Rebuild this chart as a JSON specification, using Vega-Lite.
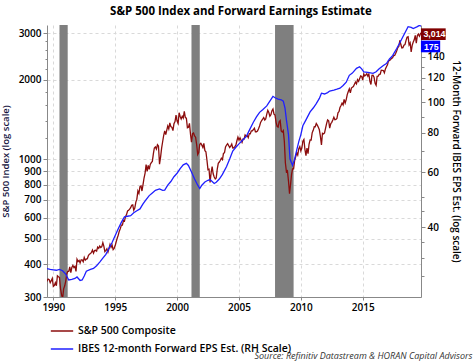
{
  "$schema": "https://vega.github.io/schema/vega-lite/v6.json",
  "width": 374,
  "height": 272,
  "autosize": {"type": "none"},
  "padding": {"left": 47, "top": 25, "right": 55, "bottom": 64},
  "background": "white",
  "title": {"text": "S&P 500 Index and Forward Earnings Estimate", "font": "Open Sans", "fontSize": 11.5, "fontWeight": "bold", "color": "#000000", "anchor": "middle", "frame": "group", "dx": 7, "offset": 8},
  "config": {"view": {"stroke": null}, "font": "Open Sans"},
  "datasets": {
    "rec": [{"d": "1990-07", "d2": "1991-03"}, {"d": "2001-03", "d2": "2001-11"}, {"d": "2007-12", "d2": "2009-06"}],
    "spend": [{"d": "2019-09-15", "v": 3014}],
    "epsend": [{"d": "2019-09-15", "v": 175}],
    "sp": [
      {"d":"1989-06","v":340},{"d":"1989-07","v":346},{"d":"1989-08","v":351},{"d":"1989-09","v":349},{"d":"1989-10","v":340},{"d":"1989-11","v":346},{"d":"1989-12","v":353},
      {"d":"1990-01","v":329},{"d":"1990-02","v":332},{"d":"1990-03","v":340},{"d":"1990-04","v":331},{"d":"1990-05","v":361},{"d":"1990-06","v":358},{"d":"1990-07","v":356},{"d":"1990-08","v":323},{"d":"1990-09","v":306},{"d":"1990-10","v":296},{"d":"1990-11","v":322},{"d":"1990-12","v":330},
      {"d":"1991-01","v":344},{"d":"1991-02","v":367},{"d":"1991-03","v":375},{"d":"1991-04","v":375},{"d":"1991-05","v":390},{"d":"1991-06","v":371},{"d":"1991-07","v":388},{"d":"1991-08","v":395},{"d":"1991-09","v":388},{"d":"1991-10","v":392},{"d":"1991-11","v":375},{"d":"1991-12","v":417},
      {"d":"1992-01","v":409},{"d":"1992-02","v":413},{"d":"1992-03","v":404},{"d":"1992-04","v":415},{"d":"1992-05","v":415},{"d":"1992-06","v":408},{"d":"1992-07","v":424},{"d":"1992-08","v":414},{"d":"1992-09","v":418},{"d":"1992-10","v":419},{"d":"1992-11","v":431},{"d":"1992-12","v":436},
      {"d":"1993-01","v":439},{"d":"1993-02","v":443},{"d":"1993-03","v":452},{"d":"1993-04","v":440},{"d":"1993-05","v":450},{"d":"1993-06","v":451},{"d":"1993-07","v":448},{"d":"1993-08","v":464},{"d":"1993-09","v":459},{"d":"1993-10","v":468},{"d":"1993-11","v":462},{"d":"1993-12","v":466},
      {"d":"1994-01","v":482},{"d":"1994-02","v":467},{"d":"1994-03","v":446},{"d":"1994-04","v":451},{"d":"1994-05","v":457},{"d":"1994-06","v":444},{"d":"1994-07","v":458},{"d":"1994-08","v":475},{"d":"1994-09","v":463},{"d":"1994-10","v":472},{"d":"1994-11","v":454},{"d":"1994-12","v":459},
      {"d":"1995-01","v":470},{"d":"1995-02","v":487},{"d":"1995-03","v":501},{"d":"1995-04","v":515},{"d":"1995-05","v":533},{"d":"1995-06","v":545},{"d":"1995-07","v":562},{"d":"1995-08","v":562},{"d":"1995-09","v":584},{"d":"1995-10","v":582},{"d":"1995-11","v":605},{"d":"1995-12","v":616},
      {"d":"1996-01","v":636},{"d":"1996-02","v":640},{"d":"1996-03","v":646},{"d":"1996-04","v":654},{"d":"1996-05","v":669},{"d":"1996-06","v":671},{"d":"1996-07","v":640},{"d":"1996-08","v":652},{"d":"1996-09","v":687},{"d":"1996-10","v":705},{"d":"1996-11","v":757},{"d":"1996-12","v":741},
      {"d":"1997-01","v":786},{"d":"1997-02","v":791},{"d":"1997-03","v":757},{"d":"1997-04","v":801},{"d":"1997-05","v":848},{"d":"1997-06","v":885},{"d":"1997-07","v":954},{"d":"1997-08","v":899},{"d":"1997-09","v":947},{"d":"1997-10","v":915},{"d":"1997-11","v":955},{"d":"1997-12","v":970},
      {"d":"1998-01","v":980},{"d":"1998-02","v":1049},{"d":"1998-03","v":1102},{"d":"1998-04","v":1112},{"d":"1998-05","v":1091},{"d":"1998-06","v":1134},{"d":"1998-07","v":1121},{"d":"1998-08","v":957},{"d":"1998-09","v":1017},{"d":"1998-10","v":1099},{"d":"1998-11","v":1164},{"d":"1998-12","v":1229},
      {"d":"1999-01","v":1280},{"d":"1999-02","v":1238},{"d":"1999-03","v":1286},{"d":"1999-04","v":1335},{"d":"1999-05","v":1302},{"d":"1999-06","v":1373},{"d":"1999-07","v":1329},{"d":"1999-08","v":1320},{"d":"1999-09","v":1283},{"d":"1999-10","v":1363},{"d":"1999-11","v":1389},{"d":"1999-12","v":1469},
      {"d":"2000-01","v":1394},{"d":"2000-02","v":1366},{"d":"2000-03","v":1499},{"d":"2000-04","v":1452},{"d":"2000-05","v":1421},{"d":"2000-06","v":1455},{"d":"2000-07","v":1431},{"d":"2000-08","v":1518},{"d":"2000-09","v":1437},{"d":"2000-10","v":1429},{"d":"2000-11","v":1315},{"d":"2000-12","v":1320},
      {"d":"2001-01","v":1366},{"d":"2001-02","v":1240},{"d":"2001-03","v":1160},{"d":"2001-04","v":1249},{"d":"2001-05","v":1256},{"d":"2001-06","v":1224},{"d":"2001-07","v":1211},{"d":"2001-08","v":1134},{"d":"2001-09","v":1041},{"d":"2001-10","v":1060},{"d":"2001-11","v":1139},{"d":"2001-12","v":1148},
      {"d":"2002-01","v":1130},{"d":"2002-02","v":1107},{"d":"2002-03","v":1147},{"d":"2002-04","v":1077},{"d":"2002-05","v":1067},{"d":"2002-06","v":990},{"d":"2002-07","v":912},{"d":"2002-08","v":916},{"d":"2002-09","v":815},{"d":"2002-10","v":886},{"d":"2002-11","v":936},{"d":"2002-12","v":880},
      {"d":"2003-01","v":856},{"d":"2003-02","v":841},{"d":"2003-03","v":848},{"d":"2003-04","v":917},{"d":"2003-05","v":964},{"d":"2003-06","v":975},{"d":"2003-07","v":990},{"d":"2003-08","v":1008},{"d":"2003-09","v":996},{"d":"2003-10","v":1051},{"d":"2003-11","v":1058},{"d":"2003-12","v":1112},
      {"d":"2004-01","v":1131},{"d":"2004-02","v":1145},{"d":"2004-03","v":1126},{"d":"2004-04","v":1107},{"d":"2004-05","v":1121},{"d":"2004-06","v":1141},{"d":"2004-07","v":1102},{"d":"2004-08","v":1104},{"d":"2004-09","v":1115},{"d":"2004-10","v":1130},{"d":"2004-11","v":1174},{"d":"2004-12","v":1212},
      {"d":"2005-01","v":1181},{"d":"2005-02","v":1204},{"d":"2005-03","v":1181},{"d":"2005-04","v":1157},{"d":"2005-05","v":1192},{"d":"2005-06","v":1191},{"d":"2005-07","v":1234},{"d":"2005-08","v":1220},{"d":"2005-09","v":1229},{"d":"2005-10","v":1207},{"d":"2005-11","v":1249},{"d":"2005-12","v":1248},
      {"d":"2006-01","v":1280},{"d":"2006-02","v":1281},{"d":"2006-03","v":1295},{"d":"2006-04","v":1311},{"d":"2006-05","v":1270},{"d":"2006-06","v":1270},{"d":"2006-07","v":1277},{"d":"2006-08","v":1304},{"d":"2006-09","v":1336},{"d":"2006-10","v":1378},{"d":"2006-11","v":1401},{"d":"2006-12","v":1418},
      {"d":"2007-01","v":1438},{"d":"2007-02","v":1407},{"d":"2007-03","v":1421},{"d":"2007-04","v":1482},{"d":"2007-05","v":1531},{"d":"2007-06","v":1503},{"d":"2007-07","v":1455},{"d":"2007-08","v":1474},{"d":"2007-09","v":1527},{"d":"2007-10","v":1549},{"d":"2007-11","v":1481},{"d":"2007-12","v":1468},
      {"d":"2008-01","v":1379},{"d":"2008-02","v":1331},{"d":"2008-03","v":1323},{"d":"2008-04","v":1386},{"d":"2008-05","v":1400},{"d":"2008-06","v":1280},{"d":"2008-07","v":1267},{"d":"2008-08","v":1283},{"d":"2008-09","v":1166},{"d":"2008-10","v":969},{"d":"2008-11","v":896},{"d":"2008-12","v":903},
      {"d":"2009-01","v":826},{"d":"2009-02","v":740},{"d":"2009-03","v":798},{"d":"2009-04","v":873},{"d":"2009-05","v":919},{"d":"2009-06","v":919},{"d":"2009-07","v":987},{"d":"2009-08","v":1021},{"d":"2009-09","v":1057},{"d":"2009-10","v":1036},{"d":"2009-11","v":1096},{"d":"2009-12","v":1115},
      {"d":"2010-01","v":1074},{"d":"2010-02","v":1104},{"d":"2010-03","v":1169},{"d":"2010-04","v":1187},{"d":"2010-05","v":1089},{"d":"2010-06","v":1031},{"d":"2010-07","v":1102},{"d":"2010-08","v":1049},{"d":"2010-09","v":1141},{"d":"2010-10","v":1183},{"d":"2010-11","v":1181},{"d":"2010-12","v":1258},
      {"d":"2011-01","v":1286},{"d":"2011-02","v":1327},{"d":"2011-03","v":1326},{"d":"2011-04","v":1364},{"d":"2011-05","v":1345},{"d":"2011-06","v":1321},{"d":"2011-07","v":1292},{"d":"2011-08","v":1219},{"d":"2011-09","v":1131},{"d":"2011-10","v":1253},{"d":"2011-11","v":1247},{"d":"2011-12","v":1258},
      {"d":"2012-01","v":1312},{"d":"2012-02","v":1366},{"d":"2012-03","v":1408},{"d":"2012-04","v":1398},{"d":"2012-05","v":1310},{"d":"2012-06","v":1362},{"d":"2012-07","v":1379},{"d":"2012-08","v":1407},{"d":"2012-09","v":1441},{"d":"2012-10","v":1412},{"d":"2012-11","v":1416},{"d":"2012-12","v":1426},
      {"d":"2013-01","v":1498},{"d":"2013-02","v":1515},{"d":"2013-03","v":1569},{"d":"2013-04","v":1598},{"d":"2013-05","v":1631},{"d":"2013-06","v":1606},{"d":"2013-07","v":1686},{"d":"2013-08","v":1633},{"d":"2013-09","v":1682},{"d":"2013-10","v":1757},{"d":"2013-11","v":1806},{"d":"2013-12","v":1848},
      {"d":"2014-01","v":1783},{"d":"2014-02","v":1859},{"d":"2014-03","v":1872},{"d":"2014-04","v":1884},{"d":"2014-05","v":1924},{"d":"2014-06","v":1960},{"d":"2014-07","v":1931},{"d":"2014-08","v":2003},{"d":"2014-09","v":1972},{"d":"2014-10","v":2018},{"d":"2014-11","v":2068},{"d":"2014-12","v":2059},
      {"d":"2015-01","v":1995},{"d":"2015-02","v":2105},{"d":"2015-03","v":2068},{"d":"2015-04","v":2086},{"d":"2015-05","v":2107},{"d":"2015-06","v":2063},{"d":"2015-07","v":2104},{"d":"2015-08","v":1972},{"d":"2015-09","v":1920},{"d":"2015-10","v":2079},{"d":"2015-11","v":2080},{"d":"2015-12","v":2044},
      {"d":"2016-01","v":1940},{"d":"2016-02","v":1905},{"d":"2016-03","v":2060},{"d":"2016-04","v":2065},{"d":"2016-05","v":2097},{"d":"2016-06","v":2099},{"d":"2016-07","v":2174},{"d":"2016-08","v":2171},{"d":"2016-09","v":2168},{"d":"2016-10","v":2126},{"d":"2016-11","v":2199},{"d":"2016-12","v":2239},
      {"d":"2017-01","v":2279},{"d":"2017-02","v":2364},{"d":"2017-03","v":2363},{"d":"2017-04","v":2384},{"d":"2017-05","v":2412},{"d":"2017-06","v":2423},{"d":"2017-07","v":2470},{"d":"2017-08","v":2472},{"d":"2017-09","v":2519},{"d":"2017-10","v":2575},{"d":"2017-11","v":2648},{"d":"2017-12","v":2674},
      {"d":"2018-01","v":2824},{"d":"2018-02","v":2714},{"d":"2018-03","v":2641},{"d":"2018-04","v":2648},{"d":"2018-05","v":2705},{"d":"2018-06","v":2718},{"d":"2018-07","v":2816},{"d":"2018-08","v":2902},{"d":"2018-09","v":2914},{"d":"2018-10","v":2712},{"d":"2018-11","v":2760},{"d":"2018-12","v":2550},
      {"d":"2019-01","v":2704},{"d":"2019-02","v":2784},{"d":"2019-03","v":2834},{"d":"2019-04","v":2946},{"d":"2019-05","v":2752},{"d":"2019-06","v":2942},{"d":"2019-07","v":2980},{"d":"2019-08","v":2926},{"d":"2019-09-15","v":3014}
    ],
    "eps": [
      {"d":"1989-06","v":29.6},{"d":"1989-10","v":29.4},{"d":"1990-01","v":29.3},{"d":"1990-04","v":29.2},{"d":"1990-07","v":29.4},{"d":"1990-10","v":29.1},
      {"d":"1991-01","v":28.4},{"d":"1991-04","v":27.2},{"d":"1991-07","v":27.3},{"d":"1991-10","v":27.5},{"d":"1991-12","v":27.8},
      {"d":"1992-03","v":27.1},{"d":"1992-05","v":27.2},{"d":"1992-07","v":28.0},{"d":"1992-09","v":29.0},
      {"d":"1993-01","v":29.4},{"d":"1993-04","v":29.6},{"d":"1993-07","v":30.2},{"d":"1993-10","v":31.0},
      {"d":"1994-01","v":31.9},{"d":"1994-04","v":32.8},{"d":"1994-07","v":34.3},{"d":"1994-10","v":35.8},
      {"d":"1995-01","v":37.7},{"d":"1995-04","v":39.6},{"d":"1995-07","v":41.5},{"d":"1995-10","v":43.2},
      {"d":"1996-01","v":43.4},{"d":"1996-04","v":43.6},{"d":"1996-07","v":44.5},{"d":"1996-10","v":45.2},
      {"d":"1997-01","v":45.8},{"d":"1997-04","v":47.5},{"d":"1997-07","v":49.0},{"d":"1997-10","v":50.5},
      {"d":"1998-01","v":51.5},{"d":"1998-04","v":52.5},{"d":"1998-08","v":53.0},{"d":"1998-11","v":52.5},
      {"d":"1999-01","v":52.6},{"d":"1999-04","v":54.5},{"d":"1999-07","v":56.0},{"d":"1999-10","v":58.0},
      {"d":"2000-01","v":59.5},{"d":"2000-04","v":61.5},{"d":"2000-07","v":63.3},{"d":"2000-10","v":64.0},{"d":"2000-12","v":63.0},
      {"d":"2001-03","v":60.0},{"d":"2001-06","v":57.0},{"d":"2001-09","v":54.5},{"d":"2001-11","v":53.2},
      {"d":"2002-01","v":54.5},{"d":"2002-04","v":55.8},{"d":"2002-07","v":56.5},{"d":"2002-09","v":56.8},{"d":"2002-11","v":56.0},
      {"d":"2003-01","v":55.2},{"d":"2003-03","v":55.7},{"d":"2003-06","v":57.0},{"d":"2003-09","v":59.0},
      {"d":"2004-01","v":62.5},{"d":"2004-04","v":66.0},{"d":"2004-07","v":70.0},{"d":"2004-10","v":72.0},
      {"d":"2005-01","v":73.8},{"d":"2005-04","v":75.5},{"d":"2005-08","v":77.8},{"d":"2005-11","v":81.5},
      {"d":"2006-03","v":86.5},{"d":"2006-06","v":90.0},{"d":"2006-09","v":93.0},{"d":"2006-12","v":94.8},
      {"d":"2007-04","v":97.5},{"d":"2007-07","v":101.0},{"d":"2007-10","v":104.6},{"d":"2007-12","v":103.5},
      {"d":"2008-03","v":102.5},{"d":"2008-06","v":102.0},{"d":"2008-08","v":101.0},{"d":"2008-09-20","v":96.0},{"d":"2008-11","v":88.0},
      {"d":"2009-01","v":79.0},{"d":"2009-02-15","v":66.0},{"d":"2009-05","v":63.0},{"d":"2009-07","v":66.0},{"d":"2009-09","v":70.5},{"d":"2009-11","v":75.0},
      {"d":"2010-01","v":79.0},{"d":"2010-03","v":84.3},{"d":"2010-06","v":88.0},{"d":"2010-10","v":93.3},
      {"d":"2011-01","v":96.0},{"d":"2011-04","v":99.2},{"d":"2011-07","v":103.0},{"d":"2011-09","v":107.0},{"d":"2011-12","v":106.4},
      {"d":"2012-03","v":107.5},{"d":"2012-05","v":108.7},{"d":"2012-09","v":109.5},{"d":"2012-12","v":110.2},
      {"d":"2013-03","v":111.0},{"d":"2013-06","v":113.2},{"d":"2013-09","v":116.0},{"d":"2013-12","v":122.0},
      {"d":"2014-03","v":124.0},{"d":"2014-07","v":128.4},{"d":"2014-10","v":130.0},{"d":"2014-12","v":128.0},
      {"d":"2015-02","v":125.2},{"d":"2015-06","v":124.6},{"d":"2015-11","v":123.8},
      {"d":"2016-02","v":125.2},{"d":"2016-05","v":128.0},{"d":"2016-09","v":131.1},{"d":"2016-12","v":133.0},
      {"d":"2017-03","v":137.6},{"d":"2017-06","v":141.0},{"d":"2017-10","v":148.6},
      {"d":"2018-01","v":155.0},{"d":"2018-04","v":162.0},{"d":"2018-09","v":174.4},{"d":"2018-12","v":173.5},
      {"d":"2019-02","v":171.9},{"d":"2019-06","v":174.4},{"d":"2019-08","v":176.0},{"d":"2019-09-15","v":175.0}
    ]
  },
  "encoding": {
    "x": {
      "field": "d",
      "type": "temporal",
      "scale": {"domain": ["1989-06-28", "2019-09-17"]},
      "axis": {
        "values": [{"year": 1990}, {"year": 1995}, {"year": 2000}, {"year": 2005}, {"year": 2010}, {"year": 2015}],
        "format": "%Y",
        "grid": true,
        "gridDash": [3, 3],
        "gridColor": "#d9d9d9",
        "domainColor": "#888888",
        "tickColor": "#888888",
        "tickSize": 3,
        "labelFont": "Open Sans",
        "labelFontSize": 10,
        "labelFontWeight": 600,
        "labelColor": "#000000",
        "labelPadding": 2,
        "labelOverlap": false,
        "labelFlush": false,
        "title": "Source: Refinitiv Datastream & HORAN Capital Advisors",
        "titleFont": "Open Sans",
        "titleFontSize": 9,
        "titleFontStyle": "italic",
        "titleFontWeight": "normal",
        "titleColor": "#333333",
        "titleAnchor": "end",
        "titleAlign": "right",
        "titleBaseline": "middle",
        "titleX": 425,
        "titleY": 58
      }
    }
  },
  "layer": [
    {
      "data": {"name": "rec"},
      "mark": {"type": "rect", "color": "#7f7f7f", "opacity": 1},
      "encoding": {"x2": {"field": "d2"}}
    },
    {
      "encoding": {
        "y": {
          "field": "v",
          "type": "quantitative",
          "scale": {"type": "log", "domain": [300, 3226]},
          "axis": {
            "orient": "left",
            "values": [300, 400, 500, 600, 700, 800, 900, 1000, 1200, 1400, 1600, 1800, 2000, 2200, 2400, 2600, 2800, 3000],
            "labelExpr": "(datum.value <= 1000 || datum.value == 2000 || datum.value == 3000) ? datum.value : ''",
            "grid": true,
            "gridDash": [3, 3],
            "gridColor": "#d9d9d9",
            "gridOpacity": {"condition": {"test": "datum.value <= 1000 || datum.value == 2000 || datum.value == 3000", "value": 1}, "value": 0},
            "tickSize": {"condition": {"test": "datum.value <= 1000 || datum.value == 2000 || datum.value == 3000", "value": 4}, "value": 2},
            "tickColor": "#888888",
            "domainColor": "#888888",
            "labelFont": "Open Sans",
            "labelFontSize": 10,
            "labelFontWeight": 600,
            "labelColor": "#000000",
            "labelOverlap": false,
            "labelFlush": false,
            "labelPadding": 2,
            "title": "S&P 500 Index (log scale)",
            "titleFont": "Open Sans",
            "titleFontSize": 9.5,
            "titleFontWeight": 600,
            "titleColor": "#16163f",
            "titlePadding": 8
          }
        }
      },
      "layer": [
        {
          "data": {"name": "sp"},
          "mark": {"type": "line", "strokeWidth": 1.3, "clip": true},
          "encoding": {
            "color": {
              "datum": "S&P 500 Composite",
              "type": "nominal",
              "scale": {"domain": ["S&P 500 Composite", "IBES 12-month Forward EPS Est. (RH Scale)"], "range": ["#8b0d0d", "#1f1fff"]},
              "legend": {
                "orient": "none",
                "legendX": 3,
                "legendY": 294,
                "direction": "vertical",
                "title": null,
                "symbolType": "stroke",
                "symbolSize": 500,
                "symbolStrokeWidth": 1.5,
                "labelFont": "Open Sans",
                "labelFontSize": 10.5,
                "labelFontWeight": 600,
                "labelColor": "#000000",
                "labelLimit": 400,
                "rowPadding": -10,
                "labelOffset": 4
              }
            }
          }
        },
        {
          "data": {"name": "spend"},
          "mark": {"type": "point", "shape": "M0,-1.06H4.5V1.06H0Z", "size": 121, "filled": true, "opacity": 1, "color": "#800000", "strokeWidth": 0, "yOffset": 1.4}
        },
        {
          "data": {"name": "spend"},
          "mark": {"type": "text", "align": "left", "baseline": "middle", "dx": 2.5, "dy": 1.6, "color": "#ffffff", "font": "Liberation Sans", "fontSize": 8.8, "fontWeight": "bold"},
          "encoding": {"text": {"field": "v", "type": "quantitative", "format": ","}}
        }
      ]
    },
    {
      "encoding": {
        "y": {
          "field": "v",
          "type": "quantitative",
          "scale": {"type": "log", "domain": [24, 176.5]},
          "axis": {
            "orient": "right",
            "values": [28, 32, 36, 40, 45, 50, 60, 70, 80, 90, 100, 110, 120, 130, 140],
            "labelExpr": "indexof([40, 60, 80, 100, 120, 140], datum.value) >= 0 ? datum.value : ''",
            "grid": false,
            "tickSize": {"condition": {"test": "indexof([40, 60, 80, 100, 120, 140], datum.value) >= 0", "value": 4}, "value": 3},
            "tickColor": "#888888",
            "domainColor": "#888888",
            "labelFont": "Open Sans",
            "labelFontSize": 10,
            "labelFontWeight": 600,
            "labelColor": "#000000",
            "labelOverlap": false,
            "labelFlush": false,
            "labelPadding": 2,
            "title": "12-Month Forward IBES EPS Est. (log scale)",
            "titleFont": "Open Sans",
            "titleFontSize": 10,
            "titleFontWeight": 600,
            "titleColor": "#000000",
            "titlePadding": 6
          }
        }
      },
      "layer": [
        {
          "data": {"name": "eps"},
          "mark": {"type": "line", "strokeWidth": 1.3, "clip": true},
          "encoding": {"color": {"datum": "IBES 12-month Forward EPS Est. (RH Scale)", "type": "nominal"}}
        },
        {
          "data": {"name": "epsend"},
          "mark": {"type": "point", "shape": "M0,-1.06H3.5V1.06H0Z", "size": 121, "filled": true, "opacity": 1, "color": "#0000ff", "strokeWidth": 0, "yOffset": 20.3}
        },
        {
          "data": {"name": "epsend"},
          "mark": {"type": "text", "align": "left", "baseline": "middle", "dx": 3, "dy": 20.5, "color": "#ffffff", "font": "Liberation Sans", "fontSize": 8.8, "fontWeight": "bold"},
          "encoding": {"text": {"field": "v", "type": "quantitative", "format": "d"}}
        }
      ]
    }
  ],
  "resolve": {"scale": {"y": "independent"}, "axis": {"y": "independent"}}
}
